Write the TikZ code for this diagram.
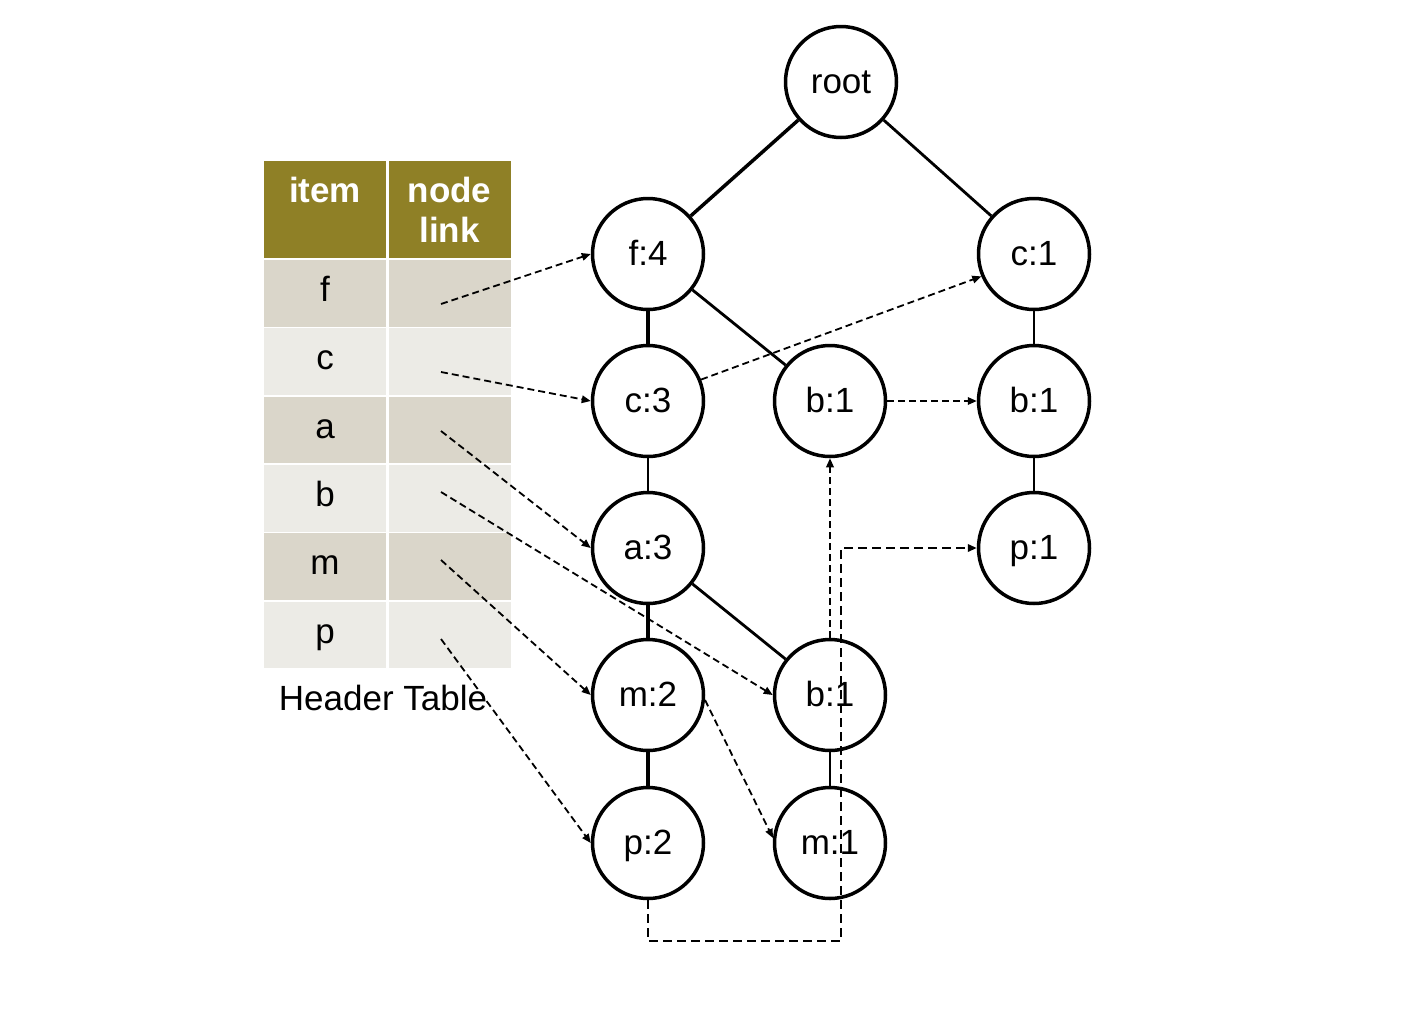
\documentclass[tikz,border=0pt]{standalone}
\usepackage{fontspec}
\setmainfont{Liberation Sans}
\usetikzlibrary{arrows.meta}
\definecolor{hdrolive}{RGB}{143,128,38}
\definecolor{rowdark}{RGB}{218,214,202}
\definecolor{rowlight}{RGB}{236,235,230}
\begin{document}
\begin{tikzpicture}[x=1pt,y=-1pt,
  fpnode/.style={circle,draw,line width=3.5pt,minimum size=111pt,inner sep=0pt,
    font=\fontsize{35}{40}\selectfont,text height=23pt,text depth=0pt},
  tedge/.style={line width=3.5pt},
  nedge/.style={line width=2.8pt},
  dlink/.style={dash pattern=on 7pt off 4pt,line width=1.8pt,
    -{Triangle[length=9pt,width=7.5pt]}},
  blink/.style={dash pattern=on 9pt off 5pt,line width=2pt,
    -{Triangle[length=9pt,width=7.5pt]}},
  cell/.style={draw=none,inner sep=0pt,minimum width=122pt,minimum height=66.5pt,
    font=\fontsize{35}{40}\selectfont,text height=24pt,text depth=8pt},
  hcell/.style={draw=none,fill=hdrolive,inner sep=0pt,minimum width=122pt,minimum height=97pt},
  htext/.style={anchor=base,text=white,font=\bfseries\fontsize{35}{40}\selectfont,inner sep=0pt},
]
\useasboundingbox (0,0) rectangle (1428,1018);
\fill[white] (0,0) rectangle (1428,1018);

% header table
\node[hcell] (h1) at (325,209.5) {};
\node[hcell] (h2) at (449.5,209.5) {};
\node[htext] (t1) at (325,202) {item};
\node[htext] (t2) at (449.5,202) {node};
\node[htext] (t3) at (449.5,242) {link};

\node[cell,fill=rowdark]  (rf) at (325,293.3) {f};
\node[cell,fill=rowdark]  (lf) at (449.5,293.3) {};
\node[cell,fill=rowlight] (rc) at (325,361.7) {c};
\node[cell,fill=rowlight] (lc) at (449.5,361.7) {};
\node[cell,fill=rowdark]  (ra) at (325,430) {a};
\node[cell,fill=rowdark]  (la) at (449.5,430) {};
\node[cell,fill=rowlight] (rb) at (325,498.3) {b};
\node[cell,fill=rowlight] (lb) at (449.5,498.3) {};
\node[cell,fill=rowdark]  (rm) at (325,566.7) {m};
\node[cell,fill=rowdark]  (lm) at (449.5,566.7) {};
\node[cell,fill=rowlight] (rp) at (325,635) {p};
\node[cell,fill=rowlight] (lp) at (449.5,635) {};

\node[anchor=base,inner sep=0pt,font=\fontsize{35}{40}\selectfont] (cap) at (383,710) {Header Table};

% FP-tree nodes
\node[fpnode] (root) at (841,82) {root};
\node[fpnode] (f4) at (648,254) {f:4};
\node[fpnode] (c1) at (1034,254) {c:1};
\node[fpnode] (c3) at (648,401) {c:3};
\node[fpnode] (bm) at (830,401) {b:1};
\node[fpnode] (br) at (1034,401) {b:1};
\node[fpnode] (a3) at (648,548) {a:3};
\node[fpnode] (p1) at (1034,548) {p:1};
\node[fpnode] (m2) at (648,695) {m:2};
\node[fpnode] (bl) at (830,695) {b:1};
\node[fpnode] (p2) at (648,843) {p:2};
\node[fpnode] (m1) at (830,843) {m:1};

% tree edges
\draw[tedge] (root) -- (f4);
\draw[nedge] (root) -- (c1);
\draw[tedge] (f4) -- (c3);
\draw[nedge] (f4) -- (bm);
\draw[nedge] (c1) -- (br);
\draw[nedge] (c3) -- (a3);
\draw[nedge] (br) -- (p1);
\draw[tedge] (a3) -- (m2);
\draw[nedge] (a3) -- (bl);
\draw[tedge] (m2) -- (p2);
\draw[nedge] (bl) -- (m1);

% node links from header table
\coordinate (sf) at (441,304);
\coordinate (sc) at (441,372);
\coordinate (sa) at (441,431);
\coordinate (sb) at (441,492);
\coordinate (sm) at (441,560);
\coordinate (sp) at (441,639);
\coordinate (k1) at (648,941);
\coordinate (k2) at (841,941);
\coordinate (k3) at (841,548);

\draw[dlink] (sf) -- (f4.west);
\draw[dlink] (sc) -- (c3.west);
\draw[dlink] (sa) -- (a3.west);
\draw[dlink] (sb) -- (bl.west);
\draw[dlink] (sm) -- (m2.west);
\draw[dlink] (sp) -- (p2.west);

% links between tree nodes
\draw[dlink] (c3.22) -- (c1.203);
\draw[dlink] (bm.east) -- (br.west);
\draw[dlink] (m2.355) -- (m1.175);
\draw[dlink] (bl.north) -- (bm.south);
\draw[blink] (p2.south) -- (k1) -- (k2) -- (k3) -- (p1.west);
\end{tikzpicture}
\end{document}
